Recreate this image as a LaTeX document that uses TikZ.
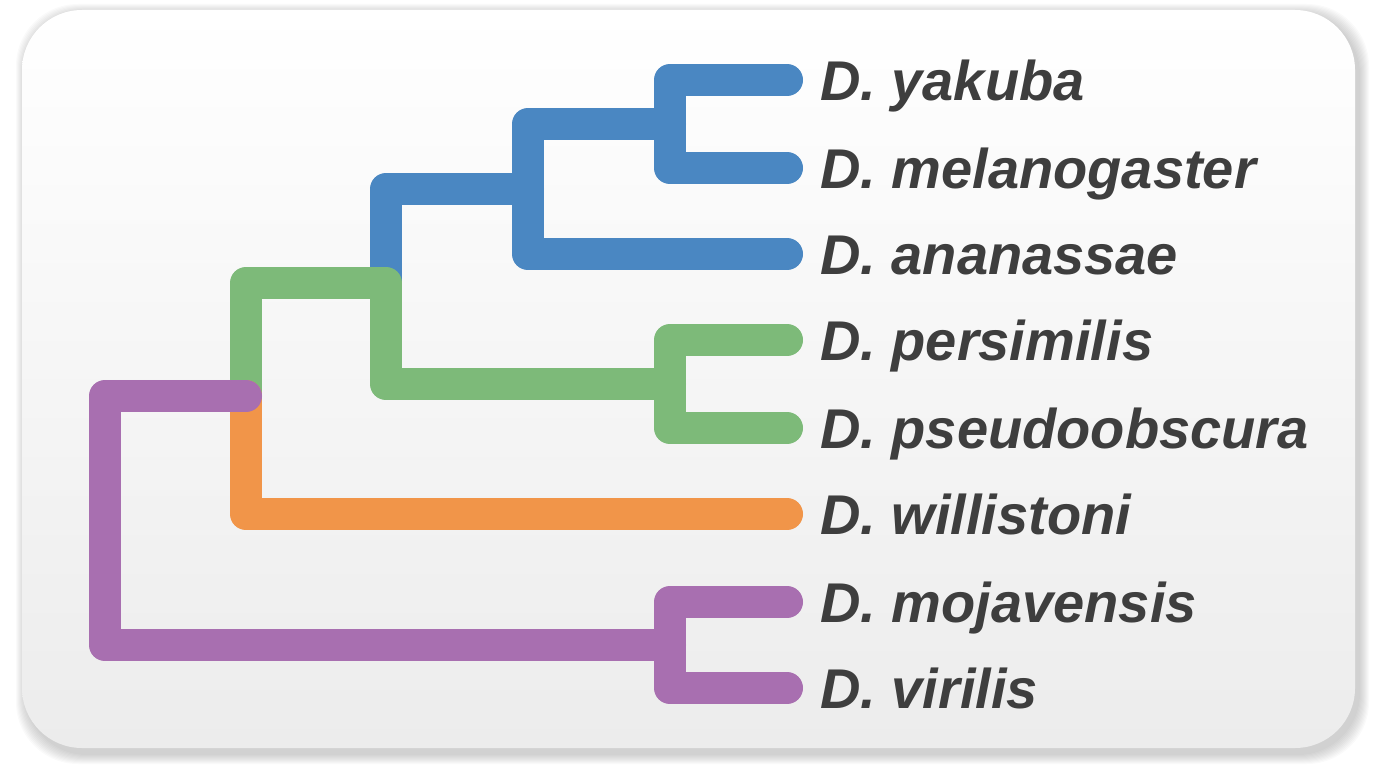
\documentclass[tikz,border=0pt]{standalone}
\usepackage{fontspec}
\setmainfont{Liberation Sans}
\definecolor{cladeblue}{RGB}{74,135,194}
\definecolor{cladegreen}{RGB}{125,186,121}
\definecolor{cladeorange}{RGB}{241,149,73}
\definecolor{cladepurple}{RGB}{168,111,176}
\definecolor{taxongrey}{RGB}{62,62,62}
\definecolor{panelgrey}{RGB}{236,236,236}
\begin{document}
\begin{tikzpicture}[x=1pt,y=-1pt,line join=round,line cap=round,
    branch/.style={line width=32pt},
    taxon/.style={anchor=base west,inner sep=0pt,text=taxongrey,
      font=\fontsize{56}{62}\selectfont\bfseries\itshape}]
    \useasboundingbox (0,0) rectangle (1376,768);
    % panel with soft shadow
    \foreach \d in {1,...,10}
        \fill[black,opacity=0.018,rounded corners=62pt]
        (26-\d,14-\d) rectangle (1359+\d,754+\d);
    \shade[top color=white,bottom color=panelgrey,rounded corners=60pt]
        (22,10) rectangle (1355,748);
    % leaves
    \coordinate (yak) at (787,80);
    \coordinate (mel) at (787,168);
    \coordinate (ana) at (787,254);
    \coordinate (per) at (787,340);
    \coordinate (pse) at (787,428);
    \coordinate (wil) at (787,514);
    \coordinate (moj) at (787,602);
    \coordinate (vir) at (787,688);
    % inner nodes
    \coordinate (melgrp) at (670,124);
    \coordinate (anagrp) at (528,189);
    \coordinate (obsgrp) at (670,384);
    \coordinate (sophgrp) at (386,283);
    \coordinate (willgrp) at (246,396);
    \coordinate (root) at (105,520);
    \coordinate (virgrp) at (670,645);
    % branches
    \draw[branch,cladeblue] (yak) -| (melgrp) |- (mel);
    \draw[branch,cladeblue] (melgrp) -| (anagrp) |- (ana);
    \draw[branch,cladeblue] (anagrp) -| (sophgrp);
    \draw[branch,cladegreen] (per) -| (obsgrp) |- (pse);
    \draw[branch,cladegreen] (obsgrp) -| (sophgrp) -| (willgrp);
    \draw[branch,cladeorange] (willgrp) |- (wil);
    \draw[branch,cladepurple] (moj) -| (virgrp) |- (vir);
    \draw[branch,cladepurple] (willgrp) -| (root) |- (virgrp);
    % taxa
    \node[taxon] (yakL) at (820,100) {D. yakuba};
    \node[taxon] (melL) at (820,188) {D. melanogaster};
    \node[taxon] (anaL) at (820,274) {D. ananassae};
    \node[taxon] (perL) at (820,360) {D. persimilis};
    \node[taxon] (pseL) at (820,448) {D. pseudoobscura};
    \node[taxon] (wilL) at (820,534) {D. willistoni};
    \node[taxon] (mojL) at (820,622) {D. mojavensis};
    \node[taxon] (virL) at (820,708) {D. virilis};
\end{tikzpicture}
\end{document}
